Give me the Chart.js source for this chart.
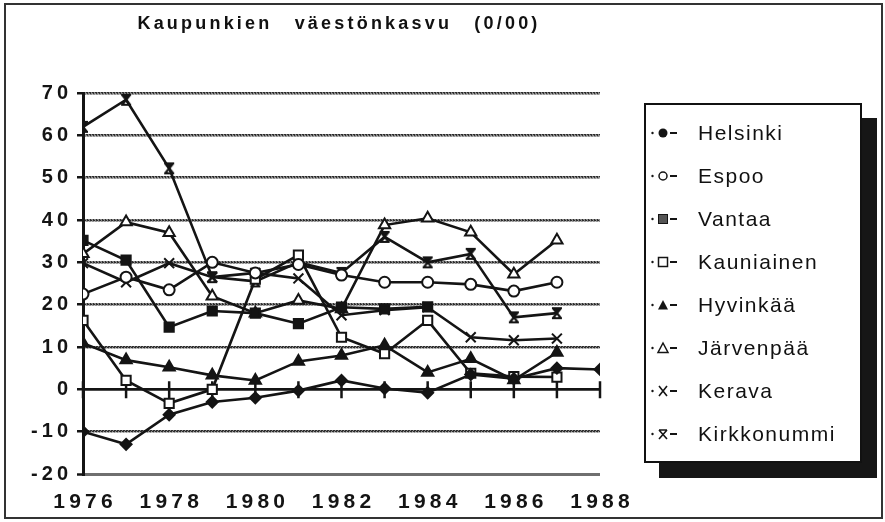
<!DOCTYPE html>
<html>
<head>
<meta charset="utf-8">
<script src="https://cdn.jsdelivr.net/npm/chart.js@4/dist/chart.umd.min.js"></script>
<style>
  html, body { margin:0; padding:0; background:#fff; }
  #wrap { position:relative; width:885px; height:522px; overflow:hidden; background:#fff; }
  #frame { position:absolute; left:4px; top:3px; width:879px; height:516px; border:2px solid #333; box-sizing:border-box; }
  #c { position:absolute; left:0; top:0; }
  #title { position:absolute; left:0; top:13px; width:678px; text-align:center;
           font:bold 18px "Liberation Sans", Arial, sans-serif; letter-spacing:3.2px; word-spacing:14px; color:#111; }
  #legend { position:absolute; left:644px; top:103px; width:218px; height:360px; box-sizing:border-box;
            border:2px solid #111; background:#fff; box-shadow:15px 15px 0 #161616; padding-top:6px; }
  .item { height:43px; display:flex; align-items:center; padding-left:4px;
          font:21px "Liberation Sans", Arial, sans-serif; letter-spacing:1.5px; color:#111; }
  .item svg { margin-right:14px; flex:none; }
</style>
</head>
<body>
<div id="wrap">
  <div id="frame"></div>
  <canvas id="c" width="885" height="522"></canvas>
  <div id="title">Kaupunkien väestönkasvu (0/00)</div>
  <div id="legend"></div>
</div>
<script>
// data (promillea)
const years = [1976, 1977, 1978, 1979, 1980, 1981, 1982, 1983, 1984, 1985, 1986, 1987, 1988];
const xTicks = [1976, 1978, 1980, 1982, 1984, 1986, 1988];
const yTicks = [-20, -10, 0, 10, 20, 30, 40, 50, 60, 70];

const helsinki    = [-10, -13, -6, -3, -2, -0.3, 2.1, 0.2, -0.8, 3.5, 2.5, 5, 4.7];
const espoo       = [22.5, 26.5, 23.5, 30, 27.5, 29.5, 27, 25.3, 25.3, 24.8, 23.2, 25.3, null];
const vantaa      = [35.2, 30.5, 14.7, 18.5, 18, 15.5, 19.4, 19, 19.5, null, null, null, null];
const kauniainen  = [16.3, 2.1, -3.3, 0, 26, 31.7, 12.3, 8.4, 16.3, 3.8, 3, 2.9, null];
const hyvinkaa    = [10.9, 6.9, 5.2, 3.3, 2.1, 6.6, 8, 10.4, 4, 7.2, 2.2, 8.7, null];
const jarvenpaa   = [32, 39.5, 37, 22, 18, 21, 19, 38.8, 40.4, 37.1, 27.2, 35.2, null];
const kerava      = [29.8, 25.3, 29.8, 26.5, 27.5, 26.2, 17.5, 18.7, 19.4, 12.3, 11.6, 12, null];
const kirkkonummi = [62, 68.4, 52.2, 26.5, 25.5, 30, 27.5, 36, 30, 32, 17, 18, null];

const names = ['Helsinki', 'Espoo', 'Vantaa', 'Kauniainen', 'Hyvinkää', 'Järvenpää', 'Kerava', 'Kirkkonummi'];
const series = [helsinki, espoo, vantaa, kauniainen, hyvinkaa, jarvenpaa, kerava, kirkkonummi];
const marks = ['diamond', 'circleO', 'square', 'squareO', 'tri', 'triO', 'x', 'xbar'];

const INK = '#141414';

// kirkkonummi marker: X with bars (hourglass)
function xbarImage(){
  const cv = document.createElement('canvas');
  cv.width = 14; cv.height = 14;
  const g = cv.getContext('2d');
  g.strokeStyle = INK; g.fillStyle = INK; g.lineWidth = 2.2;
  g.beginPath(); g.moveTo(2,2); g.lineTo(12,2); g.moveTo(2,12); g.lineTo(12,12);
  g.moveTo(3,2); g.lineTo(11,12); g.moveTo(11,2); g.lineTo(3,12); g.stroke();
  g.beginPath(); g.moveTo(4,3); g.lineTo(10,3); g.lineTo(7,7); g.closePath(); g.fill();
  return cv;
}

function pointOpts(m){
  switch(m){
    case 'diamond': return {pointStyle:'rectRot', pointRadius:5.5, pointBackgroundColor:INK};
    case 'circleO': return {pointStyle:'circle', pointRadius:5.5, pointBackgroundColor:'#fff'};
    case 'square':  return {pointStyle:'rect', pointRadius:6.5, pointBackgroundColor:INK};
    case 'squareO': return {pointStyle:'rect', pointRadius:6.5, pointBackgroundColor:'#fff'};
    case 'tri':     return {pointStyle:'triangle', pointRadius:6.5, pointBackgroundColor:INK};
    case 'triO':    return {pointStyle:'triangle', pointRadius:6.5, pointBackgroundColor:'#fff'};
    case 'x':       return {pointStyle:'crossRot', pointRadius:7, pointBackgroundColor:INK};
    case 'xbar':    return {pointStyle:xbarImage(), pointRadius:7, pointBackgroundColor:INK};
  }
}

// textured grey grid line like the scanned original
function gridPattern(){
  const cv = document.createElement('canvas');
  cv.width = 3; cv.height = 3;
  const g = cv.getContext('2d');
  g.fillStyle = '#8a8a8a'; g.fillRect(0,0,3,3);
  g.fillStyle = '#2e2e2e'; g.fillRect(0,0,1,3); g.fillRect(1,1,1,1); g.fillRect(2,2,1,1);
  return g.createPattern(cv, 'repeat');
}

const ctx = document.getElementById('c').getContext('2d');
const patt = gridPattern();

const datasets = series.map((s, i) => Object.assign({
  label: names[i],
  data: years.map((x, j) => ({x: x, y: s[j]})),
  borderColor: INK,
  borderWidth: 2.6,
  pointBorderColor: INK,
  pointBorderWidth: 2,
  spanGaps: false,
  tension: 0
}, pointOpts(marks[i])));

// year ticks on the zero line
const zeroTicks = {
  id: 'zeroTicks',
  beforeDatasetsDraw(chart){
    const xs = chart.scales.x, ys = chart.scales.y;
    const y0 = ys.getPixelForValue(0);
    const c = chart.ctx;
    c.save();
    c.strokeStyle = INK; c.lineWidth = 2.5;
    c.beginPath();
    c.moveTo(xs.left, y0); c.lineTo(xs.right, y0);
    years.forEach(yr => {
      const px = xs.getPixelForValue(yr);
      c.moveTo(px, y0 - 8); c.lineTo(px, y0 + 9);
    });
    c.stroke();
    c.restore();
  }
};

// "1976" -> "1 9 7 6" with thin spaces, like the wide-set original
const spaced = v => String(v).replace('-', '-').split('').join('\u2009');

new Chart(ctx, {
  type: 'line',
  data: { datasets: datasets },
  plugins: [zeroTicks],
  options: {
    responsive: false,
    animation: false,
    devicePixelRatio: 1,
    layout: { padding: { left: 0, top: 93, right: 285, bottom: 0 } },
    plugins: { legend: { display: false }, tooltip: { enabled: false }, title: { display: false } },
    scales: {
      x: {
        type: 'linear', min: 1976, max: 1988,
        afterBuildTicks: s => { s.ticks = xTicks.map(v => ({value: v})); },
        afterFit: s => { s.height = 48; },
        grid: { display: false, drawTicks: false },
        border: { display: false },
        ticks: {
          padding: 16, color: INK, maxRotation: 0,
          font: { family: '"Liberation Sans", Arial, sans-serif', size: 21, weight: 'bold' },
          callback: v => spaced(v)
        }
      },
      y: {
        min: -20, max: 70,
        afterBuildTicks: s => { s.ticks = yTicks.map(v => ({value: v})); },
        afterFit: s => { s.width = 83; },
        grid: {
          color: c => c.tick.value === 0 ? INK : (c.tick.value === -20 ? '#6f6f6f' : patt),
          lineWidth: c => c.tick.value === -20 ? 3 : 2.5,
          tickLength: 6, tickColor: INK, tickWidth: 2.5
        },
        border: { display: true, color: INK, width: 3 },
        ticks: {
          padding: 9, color: INK,
          font: { family: '"Liberation Sans", Arial, sans-serif', size: 20, weight: 'bold' },
          callback: v => spaced(v)
        }
      }
    }
  }
});

// legend box
function markerSvg(m){
  let shape = '';
  const cx = 13, cy = 10;
  switch(m){
    case 'diamond': shape = `<circle cx="${cx}" cy="${cy}" r="4.5" fill="${INK}"/>`; break;
    case 'circleO': shape = `<circle cx="${cx}" cy="${cy}" r="4" fill="#fff" stroke="${INK}" stroke-width="1.5"/>`; break;
    case 'square':  shape = `<rect x="${cx-4.5}" y="${cy-4.5}" width="9" height="9" fill="#555" stroke="${INK}" stroke-width="1"/>`; break;
    case 'squareO': shape = `<rect x="${cx-4.5}" y="${cy-4.5}" width="9" height="9" fill="#fff" stroke="${INK}" stroke-width="1.5"/>`; break;
    case 'tri':     shape = `<polygon points="${cx},${cy-5} ${cx+5},${cy+4.5} ${cx-5},${cy+4.5}" fill="${INK}"/>`; break;
    case 'triO':    shape = `<polygon points="${cx},${cy-5} ${cx+5},${cy+4.5} ${cx-5},${cy+4.5}" fill="#fff" stroke="${INK}" stroke-width="1.5"/>`; break;
    case 'x':       shape = `<path d="M${cx-4} ${cy-5} L${cx+4} ${cy+5} M${cx+4} ${cy-5} L${cx-4} ${cy+5}" stroke="${INK}" stroke-width="1.6"/>`; break;
    case 'xbar':    shape = `<path d="M${cx-4} ${cy-4} L${cx+4} ${cy-4} M${cx-4} ${cy-4} L${cx+4} ${cy+5} M${cx+4} ${cy-4} L${cx-4} ${cy+5}" stroke="${INK}" stroke-width="1.6"/>`; break;
  }
  return `<svg width="34" height="20" viewBox="0 0 34 20">
    <circle cx="2.5" cy="${cy}" r="1.2" fill="${INK}"/>${shape}
    <line x1="20" y1="${cy}" x2="27" y2="${cy}" stroke="${INK}" stroke-width="2"/></svg>`;
}

document.getElementById('legend').innerHTML = names.map((n, i) =>
  `<div class="item">${markerSvg(marks[i])}<span>${n}</span></div>`).join('');
</script>
</body>
</html>
